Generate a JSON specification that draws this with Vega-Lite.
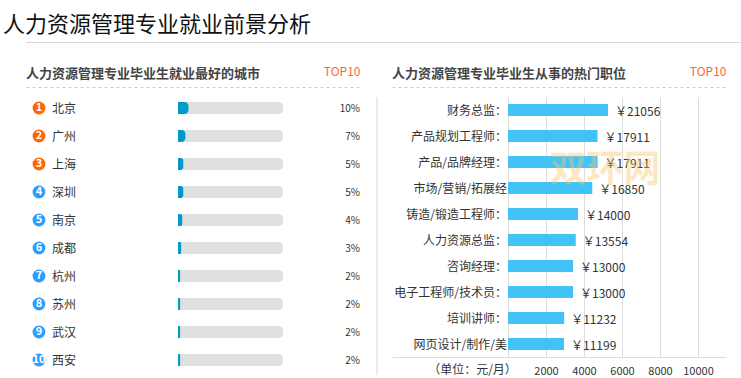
{
"$schema":"https://vega.github.io/schema/vega-lite/v6.json",
"padding":{"left":3,"top":14,"right":0,"bottom":0},
"background":"white",
"config":{"view":{"stroke":null},"font":"Noto Sans CJK SC","text":{"font":"Noto Sans CJK SC"}},
"title":{"text":"人力资源管理专业就业前景分析","anchor":"start","frame":"bounds","fontSize":22,"fontWeight":"normal","color":"#111111","font":"Noto Sans CJK SC","offset":5},
"datasets":{
"cities":[
{"rank":1,"city":"北京","pct":10,"label":"10%"},{"rank":2,"city":"广州","pct":7,"label":"7%"},{"rank":3,"city":"上海","pct":5,"label":"5%"},{"rank":4,"city":"深圳","pct":5,"label":"5%"},{"rank":5,"city":"南京","pct":4,"label":"4%"},{"rank":6,"city":"成都","pct":3,"label":"3%"},{"rank":7,"city":"杭州","pct":2,"label":"2%"},{"rank":8,"city":"苏州","pct":2,"label":"2%"},{"rank":9,"city":"武汉","pct":2,"label":"2%"},{"rank":10,"city":"西安","pct":2,"label":"2%"}],
"jobs":[
{"job":"财务总监\uFF1A","bar":20000,"salary":"\uFFE521056"},{"job":"产品规划工程师\uFF1A","bar":17911,"salary":"\uFFE517911"},{"job":"产品/品牌经理\uFF1A","bar":17911,"salary":"\uFFE517911"},{"job":"市场/营销/拓展经","bar":16850,"salary":"\uFFE516850"},{"job":"铸造/锻造工程师\uFF1A","bar":14000,"salary":"\uFFE514000"},{"job":"人力资源总监\uFF1A","bar":13554,"salary":"\uFFE513554"},{"job":"咨询经理\uFF1A","bar":13000,"salary":"\uFFE513000"},{"job":"电子工程师/技术员\uFF1A","bar":13000,"salary":"\uFFE513000"},{"job":"培训讲师\uFF1A","bar":11232,"salary":"\uFFE511232"},{"job":"网页设计/制作/美","bar":11199,"salary":"\uFFE511199"}]
},
"spacing":22,
"vconcat":[
{"width":738,"height":1,"data":{"values":[{"line":"header"}]},
 "mark":{"type":"rule","color":"#d8d8d8","strokeWidth":1},
 "encoding":{"x":{"datum":0,"scale":{"domain":[0,1]},"axis":null},"x2":{"datum":1}}},
{"spacing":16,"hconcat":[
{"width":334,"height":277,"data":{"name":"cities"},
 "title":{"text":"人力资源管理专业毕业生就业最好的城市","anchor":"start","frame":"group","fontSize":13,"fontWeight":"bold","color":"#444444","offset":-16},
 "encoding":{
  "y":{"field":"rank","type":"ordinal","sort":null,"scale":{"range":[-3,277],"paddingInner":0,"paddingOuter":0},"axis":{"labels":false,"ticks":false,"domain":false,"title":null,"minExtent":23,"maxExtent":23}}
 },
 "layer":[
  {"mark":{"type":"bar","size":12,"color":"#e0e0e0","cornerRadiusTopRight":4,"cornerRadiusBottomRight":4},
   "encoding":{"x":{"datum":0,"type":"quantitative","scale":{"domain":[-144.76,173.33],"nice":false,"zero":false},
     "axis":{"orient":"top","values":[],"labels":false,"ticks":false,"grid":false,"domainDash":[3,3],"domainColor":"#cccccc","offset":10,"title":"TOP10","titleAnchor":"end","titleAlign":"right","titleColor":"#ff6633","titleFontSize":12,"titleFontWeight":"normal","titlePadding":9}},
    "x2":{"datum":100}}},
  {"mark":{"type":"bar","size":12,"color":"#0099cc","cornerRadiusTopRight":4,"cornerRadiusBottomRight":4},
   "encoding":{"x":{"field":"pct","type":"quantitative"},"x2":{"datum":0}}},
  {"mark":{"type":"point","filled":true,"size":165,"opacity":1,"shape":"circle"},
   "encoding":{"x":{"datum":-132.4},"color":{"condition":{"test":"datum.rank<=3","value":"#ff6600"},"value":"#2b9eff"}}},
  {"mark":{"type":"text","color":"white","fontSize":11,"fontWeight":"bold","align":"center","baseline":"middle"},
   "encoding":{"x":{"datum":-132.4},"text":{"field":"rank"}}},
  {"mark":{"type":"text","color":"#333333","fontSize":12,"align":"left","baseline":"middle","dy":1},
   "encoding":{"x":{"datum":-120},"text":{"field":"city"}}},
  {"mark":{"type":"text","color":"#333333","fontSize":10,"align":"right","baseline":"middle","dy":1},
   "encoding":{"x":{"datum":173.33},"text":{"field":"label"}}}
 ]},
{"width":334,"height":260,
 "title":{"text":"人力资源管理专业毕业生从事的热门职位","anchor":"start","frame":"group","fontSize":13,"fontWeight":"bold","color":"#444444","offset":-16},
 "resolve":{"scale":{"x":"independent","y":"independent"},"axis":{"x":"independent"}},
 "layer":[
  {"data":{"values":[{"line":"axis"}]},
   "mark":{"type":"rule","color":"#d8d8d8","strokeWidth":1},
   "encoding":{
    "x":{"datum":-6894,"type":"quantitative","scale":{"domain":[-6105.26,11473.68],"nice":false,"zero":false},
     "axis":{"orient":"bottom","values":[0,2000,4000,6000,8000,10000],"format":"d","labelExpr":"datum.value==0?'':datum.label","grid":true,"gridColor":"#dddddd","ticks":false,"domainColor":"#dddddd","labelColor":"#333333","labelFontSize":11,"labelPadding":8,"title":"\uFF08单位\uFF1A元/月\uFF09","titleX":80,"titleY":12,"titleBaseline":"middle","titleFontSize":12,"titleFontWeight":"normal","titleColor":"#333333","titleAlign":"center"}},
    "y":{"datum":-0.069,"type":"quantitative","scale":{"domain":[0,1],"nice":false},"axis":null},
    "y2":{"datum":1}}},
  {"data":{"name":"jobs"},
   "encoding":{"y":{"field":"job","type":"nominal","sort":null,"scale":{"paddingInner":0,"paddingOuter":0},"axis":null}},
   "layer":[
    {"mark":{"type":"bar","size":12,"color":"#42c3f7"},
     "encoding":{"x":{"field":"bar","type":"quantitative","scale":{"domain":[-23200,43600],"nice":false,"zero":false},
       "axis":{"orient":"top","values":[],"labels":false,"ticks":false,"grid":false,"domainDash":[3,3],"domainColor":"#cccccc","offset":10,"title":"TOP10","titleAnchor":"end","titleAlign":"right","titleColor":"#ff6633","titleFontSize":12,"titleFontWeight":"normal","titlePadding":9}},
      "x2":{"datum":0}}},
    {"mark":{"type":"text","color":"#333333","fontSize":12,"align":"left","baseline":"middle","dx":7,"dy":2},
     "encoding":{"x":{"field":"bar","type":"quantitative"},"text":{"field":"salary"}}},
    {"mark":{"type":"text","color":"#333333","fontSize":12,"align":"right","baseline":"middle","dx":-1,"dy":1},
     "encoding":{"x":{"datum":0},"text":{"field":"job"}}},
    {"transform":[{"filter":"datum.bar==17911 && indexof(datum.job,'/')>0"}],
     "mark":{"type":"text","color":"#f7c56e","opacity":0.4,"fontSize":37,"fontWeight":"bold","align":"center","baseline":"middle","dy":9,"text":"双环网"},
     "encoding":{"x":{"datum":19400}}}
   ]}
 ]}
]}
]}
